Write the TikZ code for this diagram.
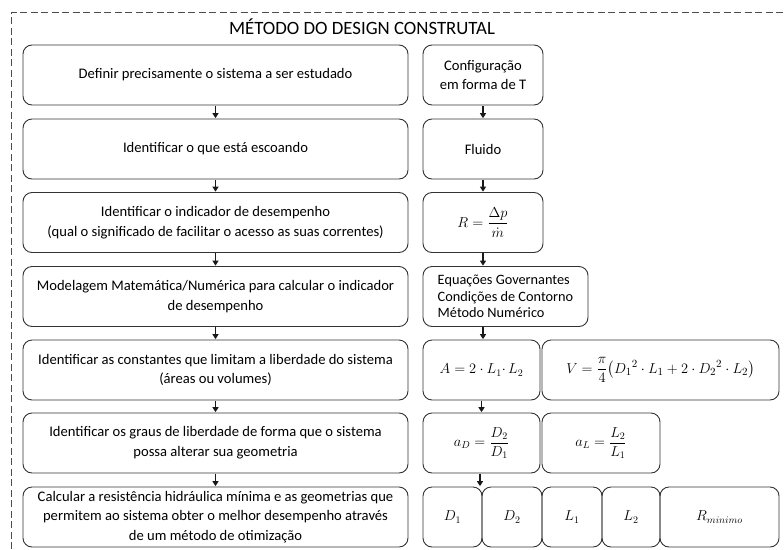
\documentclass[tikz,border=0pt]{standalone}
\usepackage{amsmath}
\usepackage{fontspec}
\setmainfont{Carlito}
\usetikzlibrary{arrows.meta}
\begin{document}
\begin{tikzpicture}[x=1pt,y=-1pt,
 box/.style={draw=black!80, line width=0.9pt, rounded corners=9pt, align=center,
   font=\fontsize{14.6}{19.8}\selectfont, inner sep=0pt, minimum height=60pt},
 lbox/.style={box, minimum width=385pt},
 arr/.style={-{Triangle[length=5pt,width=6pt]}, line width=1.4pt, black!90, shorten >=0.4pt, shorten <=0.4pt}]
\useasboundingbox (0,0) rectangle (784,549);
\draw[black!70, line width=0.8pt, dash pattern=on 7pt off 3.5pt] (11,549) -- (11,12) -- (784,12);
\node[font=\fontsize{18.8}{21}\selectfont] (title) at (362,27) {MÉTODO DO DESIGN CONSTRUTAL};
% left column
\node[lbox] (l1) at (215.5,75) {Definir precisamente o sistema a ser estudado};
\node[lbox] (l2) at (215.5,149) {Identificar o que está escoando};
\node[lbox] (l3) at (215.5,222.5) {Identificar o indicador de desempenho\\(qual o significado de facilitar o acesso as suas correntes)};
\node[lbox] (l4) at (215.5,296.5) {Modelagem Matemática/Numérica para calcular o indicador\\de desempenho};
\node[lbox] (l5) at (215.5,370) {Identificar as constantes que limitam a liberdade do sistema\\(áreas ou volumes)};
\node[lbox] (l6) at (215.5,443) {Identificar os graus de liberdade de forma que o sistema\\possa alterar sua geometria};
\node[lbox] (l7) at (215.5,517) {Calcular a resistência hidráulica mínima e as geometrias que\\permitem ao sistema obter o melhor desempenho através\\de um método de otimização};
% right column
\node[box, minimum width=120pt] (r1) at (483,75) {Configuração\\em forma de T};
\node[box, minimum width=120pt] (r2) at (483,149) {Fluido};
\node[box, minimum width=120pt] (r3) at (483,222.5) {$R=\dfrac{\Delta p}{\dot m}$};
\node[box, minimum width=165pt, align=left, font=\fontsize{14.3}{16.5}\selectfont] (r4) at (505.5,296.5) {\makebox[135pt][l]{Equações Governantes}\\Condições de Contorno\\Método Numérico};
\node[box, minimum width=117pt] (r5a) at (481.5,370) {$A=2\cdot L_1{\cdot}\,L_2$};
\node[box, minimum width=237pt, font=\fontsize{15.5}{19}\selectfont] (r5b) at (660.5,370) {$V=\dfrac{\pi}{4}\big({D_1}^2\cdot L_1 + 2\cdot {D_2}^2\cdot L_2\big)$};
\node[box, minimum width=117pt] (r6a) at (481.5,443) {$a_D=\dfrac{D_2}{D_1}$};
\node[box, minimum width=118pt] (r6b) at (601,443) {$a_L=\dfrac{L_2}{L_1}$};
\node[box, minimum width=59pt] (r7a) at (452.5,517) {$D_1$};
\node[box, minimum width=60pt] (r7b) at (512,517) {$D_2$};
\node[box, minimum width=60pt] (r7c) at (572,517) {$L_1$};
\node[box, minimum width=58pt] (r7d) at (631,517) {$L_2$};
\node[box, minimum width=119pt] (r7e) at (719.5,517) {$R_{minimo}$};
% arrows
\foreach \a/\b in {l1/l2,l2/l3,l3/l4,l4/l5,l5/l6,l6/l7,r1/r2,r2/r3}
  \draw[arr] (\a.south) -- (\b.north);
\draw[arr] (r3.south) -- (r3.south |- r4.north);
\draw[arr] (r3.south |- r4.south) -- (r3.south |- r5a.north);
\draw[arr] (r5a.south) -- (r6a.north);
\draw[arr] ([xshift=-1.5pt]r6a.south) -- ([xshift=-1.5pt]r6a.south |- r7a.north);
\end{tikzpicture}
\end{document}
